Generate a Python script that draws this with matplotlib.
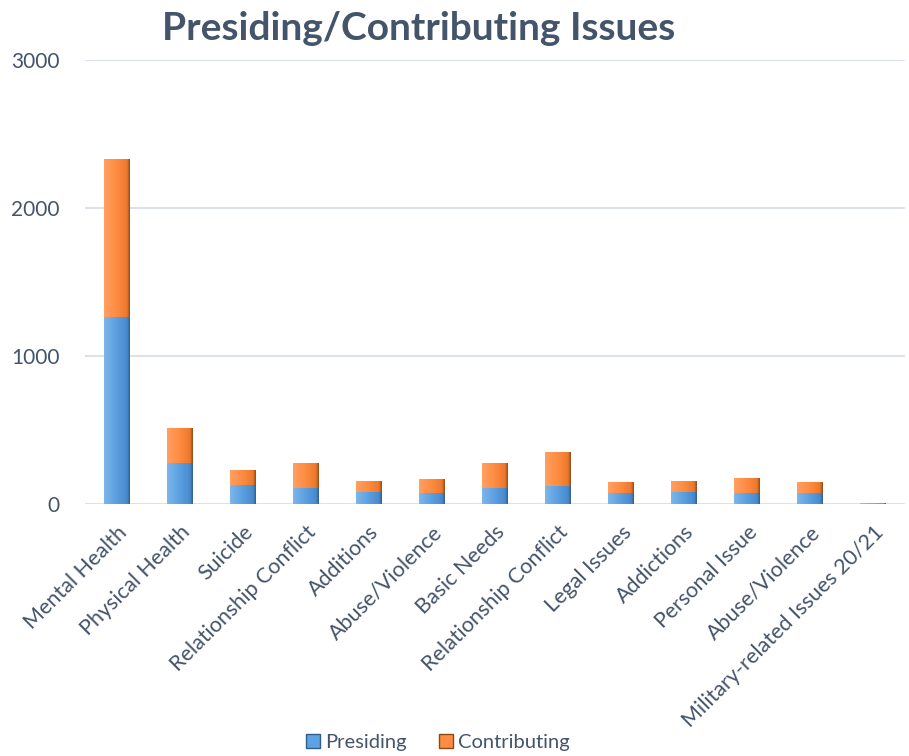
import matplotlib
matplotlib.use("Agg")
import matplotlib.pyplot as plt
import numpy as np
from matplotlib.colors import LinearSegmentedColormap
from matplotlib.patches import Patch

categories = ["Mental Health", "Physical Health", "Suicide", "Relationship Conflict",
              "Additions", "Abuse/Violence", "Basic Needs", "Relationship Conflict",
              "Legal Issues", "Addictions", "Personal Issue", "Abuse/Violence",
              "Military-related Issues 20/21"]
presiding = [1266, 275, 130, 106, 83, 74, 106, 120, 72, 83, 76, 72, 0]
contributing = [1067, 241, 100, 171, 72, 95, 171, 231, 77, 72, 100, 77, 4]

text_color = "#44546A"
plt.rcParams['font.family'] = ['Lato', 'DejaVu Sans']

fig = plt.figure(figsize=(9.09, 7.56), dpi=100)
ax = fig.add_axes([0.0935, 0.3333, 0.902, 0.5873])

x = np.arange(len(categories))
width = 0.41

blue_cmap = LinearSegmentedColormap.from_list("b", ["#7DB6EA", "#5FA2E2", "#4A8CD0", "#2E5D8E"])
orange_cmap = LinearSegmentedColormap.from_list("o", ["#FFA062", "#FF8E45", "#EF7A2E", "#8A4A18"])

b1 = ax.bar(x, presiding, width, color="#5FA2E2", zorder=2)
b2 = ax.bar(x, contributing, width, bottom=presiding, color="#FF8C42", zorder=2)

grad = np.concatenate([np.linspace(0, 0.7, 230), np.linspace(0.7, 1.0, 26)]).reshape(1, -1)
for bars, cmap in ((b1, blue_cmap), (b2, orange_cmap)):
    for p in bars:
        if p.get_height() <= 0:
            continue
        x0, y0 = p.get_x(), p.get_y()
        w, h = p.get_width(), p.get_height()
        im = ax.imshow(grad, cmap=cmap, aspect="auto", extent=(x0, x0 + w, y0, y0 + h),
                       zorder=3, interpolation="bilinear")
        im.set_clip_path(p)

ax.set_xlim(-0.5, len(categories) - 0.5)
ax.set_ylim(0, 3000)
ax.set_yticks([0, 1000, 2000, 3000])
ax.yaxis.grid(True, color="#DDE1E8", linewidth=1.5, zorder=0)
ax.set_axisbelow(True)
for s in ax.spines.values():
    s.set_visible(False)
ax.tick_params(axis="both", length=0, colors=text_color)
ax.tick_params(axis="y", pad=18, labelsize=15)
ax.tick_params(axis="x", pad=13)
ax.set_xticks(x)
ax.set_xticklabels(categories, rotation=45, ha="right", rotation_mode="anchor", fontsize=15.5)

fig.text(0.461, 0.962, "Presiding/Contributing Issues", ha="center", va="center",
         fontsize=28, fontweight="bold", color=text_color)

handles = [Patch(facecolor="#5FA2E2", edgecolor="#2E5D8E", label="Presiding"),
           Patch(facecolor="#FF8C42", edgecolor="#8A4A18", label="Contributing")]
leg = fig.legend(handles=handles, loc="center", bbox_to_anchor=(0.482, 0.018), ncol=2,
                 frameon=False, fontsize=14.5, handlelength=0.7, handleheight=0.7,
                 handletextpad=0.25, columnspacing=1.6)
for t in leg.get_texts():
    t.set_color(text_color)

fig.savefig("out.png", dpi=100)
